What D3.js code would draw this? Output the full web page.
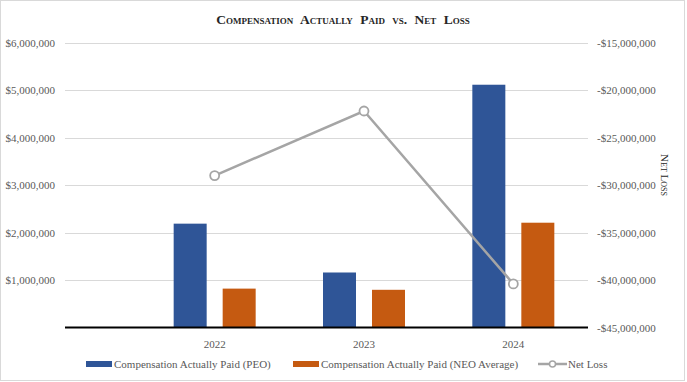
<!DOCTYPE html>
<html>
<head>
<meta charset="utf-8">
<script src="https://cdn.jsdelivr.net/npm/d3@7"></script>
<style>
  body { margin: 0; background: #fff; }
</style>
</head>
<body>
<div id="chart"></div>
<script>
var years = ["2022", "2023", "2024"],
	peo = [2190000, 1160000, 5120000],
	neo = [820000, 795000, 2210000],
	netLoss = [-28980000, -22170000, -40400000];

var leftTicks = [1000000, 2000000, 3000000, 4000000, 5000000, 6000000],
	rightTicks = [-15000000, -20000000, -25000000, -30000000, -35000000, -40000000, -45000000];

var width = 687,
	height = 382,
	plot = {left: 65, right: 588, top: 43, bottom: 327.5},
	bandLeft = 140,
	barW = 33,
	barGap = 16;

var blue = "#2f5597", orange = "#c55a11", gray = "#a5a5a5", text = "#595959";
var serif = "'Liberation Serif', 'Times New Roman', serif";

var svg = d3.select("#chart").append("svg")
	.attr("width", width)
	.attr("height", height)
	.style("font-family", serif);

// outer frame
svg.append("rect")
	.attr("x", 0.5).attr("y", 0.5)
	.attr("width", width - 3).attr("height", height - 2)
	.attr("fill", "#fff").attr("stroke", "#d9d9d9");

var X = d3.scaleBand().domain(years).range([bandLeft, plot.right]);
var Y = d3.scaleLinear().domain([0, 6000000]).range([plot.bottom, plot.top]);
var Y2 = d3.scaleLinear().domain([-45000000, -15000000]).range([plot.bottom, plot.top]);

var money = function(v){ return (v < 0 ? "-$" : "$") + d3.format(",")(Math.abs(v)); };

// gridlines
svg.append("g").selectAll("line").data(leftTicks).enter().append("line")
	.attr("x1", plot.left).attr("x2", plot.right)
	.attr("y1", function(d){ return Math.round(Y(d)) + 0.5; })
	.attr("y2", function(d){ return Math.round(Y(d)) + 0.5; })
	.attr("stroke", "#d9d9d9").attr("stroke-width", 1);

// left axis
var yAxis = svg.append("g")
	.attr("transform", "translate(" + (plot.left - 10) + ",0)")
	.call(d3.axisLeft(Y).tickValues(leftTicks).tickFormat(money).tickSize(0).tickPadding(0));
yAxis.attr("font-family", null);
yAxis.select(".domain").remove();
yAxis.selectAll("text").attr("fill", text).style("font-size", "11px").style("font-family", serif);

// right axis
var yAxis2 = svg.append("g")
	.attr("transform", "translate(" + (plot.right + 9) + ",0)")
	.call(d3.axisRight(Y2).tickValues(rightTicks).tickFormat(money).tickSize(0).tickPadding(0));
yAxis2.attr("font-family", null);
yAxis2.select(".domain").remove();
yAxis2.selectAll("text").attr("fill", text).style("font-size", "11px").style("font-family", serif);

// bars
var cx = function(d){ return X(d) + X.bandwidth() / 2; };
svg.append("g").selectAll("rect").data(years).enter().append("rect")
	.attr("x", function(d){ return cx(d) - barGap / 2 - barW; })
	.attr("y", function(d, i){ return Y(peo[i]); })
	.attr("width", barW)
	.attr("height", function(d, i){ return plot.bottom - Y(peo[i]); })
	.attr("fill", blue);
svg.append("g").selectAll("rect").data(years).enter().append("rect")
	.attr("x", function(d){ return cx(d) + barGap / 2; })
	.attr("y", function(d, i){ return Y(neo[i]); })
	.attr("width", barW)
	.attr("height", function(d, i){ return plot.bottom - Y(neo[i]); })
	.attr("fill", orange);

// x axis
svg.append("line")
	.attr("x1", plot.left).attr("x2", plot.right)
	.attr("y1", plot.bottom).attr("y2", plot.bottom)
	.attr("stroke", "#000").attr("stroke-width", 2);
svg.append("g").selectAll("text").data(years).enter().append("text")
	.attr("x", cx).attr("y", plot.bottom + 20)
	.attr("text-anchor", "middle")
	.attr("fill", text).style("font-size", "11px")
	.text(function(d){ return d; });

// net loss line
var line = d3.line()
	.x(function(d, i){ return cx(years[i]); })
	.y(function(d){ return Y2(d); });
svg.append("path").datum(netLoss)
	.attr("d", line)
	.attr("fill", "none").attr("stroke", gray).attr("stroke-width", 2.5);
svg.append("g").selectAll("circle").data(netLoss).enter().append("circle")
	.attr("cx", function(d, i){ return cx(years[i]); })
	.attr("cy", Y2)
	.attr("r", 4.5)
	.attr("fill", "#fff").attr("stroke", gray).attr("stroke-width", 1.8);

// title
svg.append("text")
	.attr("x", 343).attr("y", 24)
	.attr("text-anchor", "middle")
	.attr("fill", "#262626")
	.style("font-size", "13.5px").style("font-weight", "bold")
	.style("font-variant", "small-caps").style("word-spacing", "4px")
	.text("Compensation Actually Paid vs. Net Loss");

// right axis title
svg.append("text")
	.attr("transform", "translate(661,175) rotate(90)")
	.attr("text-anchor", "middle")
	.attr("fill", "#262626")
	.style("font-size", "11px").style("font-variant", "small-caps")
	.text("Net Loss");

// legend
var lg = svg.append("g").attr("transform", "translate(0,364)");
lg.append("rect").attr("x", 86).attr("y", -3).attr("width", 26).attr("height", 6).attr("fill", blue);
lg.append("text").attr("x", 114).attr("y", 4).attr("fill", text).style("font-size", "11px")
	.text("Compensation Actually Paid (PEO)");
lg.append("rect").attr("x", 293).attr("y", -3).attr("width", 26).attr("height", 6).attr("fill", orange);
lg.append("text").attr("x", 321).attr("y", 4).attr("fill", text).style("font-size", "11px")
	.text("Compensation Actually Paid (NEO Average)");
lg.append("line").attr("x1", 538).attr("x2", 567).attr("y1", 0).attr("y2", 0)
	.attr("stroke", gray).attr("stroke-width", 2.5);
lg.append("circle").attr("cx", 552.5).attr("cy", 0).attr("r", 3)
	.attr("fill", "#fff").attr("stroke", gray).attr("stroke-width", 1.5);
lg.append("text").attr("x", 568).attr("y", 4).attr("fill", text).style("font-size", "11px")
	.text("Net Loss");
</script>
</body>
</html>
